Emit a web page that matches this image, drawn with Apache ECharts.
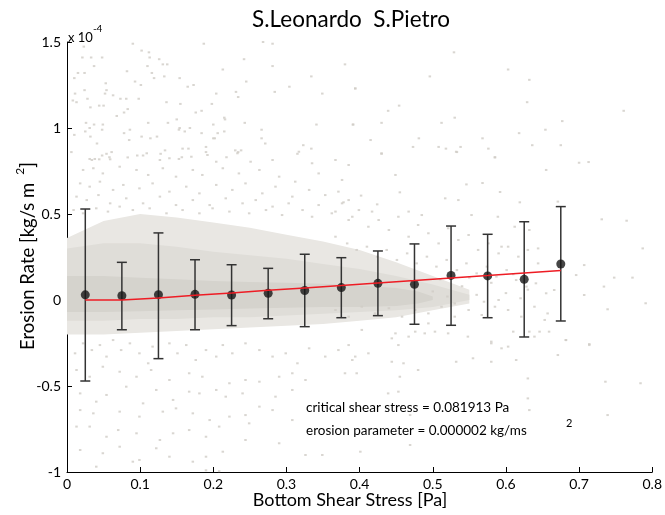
<!DOCTYPE html>
<html><head><meta charset="utf-8">
<script src="https://cdn.jsdelivr.net/npm/echarts@6/dist/echarts.min.js"></script>
<style>html,body{margin:0;padding:0;background:#fff}#c{width:665px;height:515px}</style>
</head><body><div id="c"></div>
<script>
// ---- data (erosion rate in units of 1e-4 kg/s m^2) ----
const binX   = [0.025,0.075,0.125,0.175,0.225,0.275,0.325,0.375,0.425,0.475,0.525,0.575,0.625,0.675];
const binMean= [0.030,0.025,0.031,0.033,0.029,0.039,0.055,0.072,0.097,0.091,0.143,0.140,0.120,0.209];
const binHigh= [0.529,0.219,0.390,0.234,0.205,0.184,0.266,0.246,0.285,0.326,0.430,0.382,0.455,0.543];
const binLow = [-0.471,-0.173,-0.341,-0.173,-0.149,-0.109,-0.155,-0.103,-0.091,-0.141,-0.147,-0.103,-0.215,-0.122];
const fitY   = [0,0,0.012,0.027,0.041,0.056,0.070,0.084,0.099,0.113,0.128,0.142,0.157,0.171];

// density envelopes of the raw scatter cloud
const bandX     = [0,0.05,0.1,0.15,0.2,0.25,0.3,0.35,0.4,0.45,0.5,0.55];
const outerTop  = [0.36,0.46,0.50,0.48,0.45,0.42,0.38,0.34,0.29,0.22,0.14,0.06];
const outerBot  = [-0.20,-0.20,-0.19,-0.18,-0.17,-0.16,-0.15,-0.14,-0.12,-0.10,-0.06,-0.02];
const innerTop  = [0.30,0.33,0.33,0.31,0.28,0.26,0.24,0.21,0.18,0.14,0.09,0.03];
const innerBot  = [-0.12,-0.12,-0.11,-0.11,-0.10,-0.10,-0.09,-0.08,-0.07,-0.06,-0.04,0.00];
const coreX     = [0,0.05,0.1,0.15,0.2,0.25,0.3,0.35,0.4,0.45,0.48,0.5];
const coreTop   = [0.14,0.14,0.13,0.12,0.11,0.105,0.10,0.095,0.085,0.07,0.05,0.02];
const coreBot   = [-0.07,-0.07,-0.065,-0.06,-0.055,-0.05,-0.045,-0.04,-0.04,-0.035,-0.02,0.00];

// individual sparse points of the raw cloud
const sparsePts = [
[0.023,1.473],[0.021,1.41],[0.033,1.41],[0.048,1.41],[0.037,1.36],[0.09,1.49],[0.102,1.45],[0.112,1.44],[0.113,1.41],[0.126,1.40],
[0.131,1.37],[0.137,1.37],[0.110,1.36],[0.082,1.33],[0.116,1.32],[0.119,1.29],[0.133,1.30],[0.154,1.29],[0.187,1.49],[0.213,1.34],
[0.242,1.40],[0.268,1.50],[0.281,1.49],[0.281,1.36],[0.245,1.27],[0.204,1.20],[0.231,1.21],[0.234,1.18],[0.284,1.21],[0.304,1.24],
[0.334,1.30],[0.349,1.20],[0.380,1.37],[0.394,1.23],[0.015,1.32],[0.024,1.32],[0.010,1.29],[0.053,1.26],[0.093,1.27],[0.101,1.25],
[0.024,1.22],[0.011,1.20],[0.052,1.20],[0.054,1.22],[0.063,1.19],[0.028,1.17],[0.008,1.16],[0.013,1.15],[0.073,1.17],[0.081,1.17],
[0.098,1.17],[0.165,1.24],[0.173,1.25],[0.136,1.15],[0.155,1.14],[0.198,1.14],[0.032,1.12],[0.044,1.13],[0.050,1.13],[0.083,1.11],
[0.078,1.09],[0.176,1.09],[0.184,1.10],[0.068,1.07],[0.215,1.06],[0.216,1.05],[0.150,1.05],[0.026,1.03],[0.037,1.02],[0.049,1.02],
[0.111,1.03],[0.138,1.03],[0.200,1.02],[0.243,1.03],[0.341,1.02],[0.391,1.02],[0.031,1.00],[0.025,0.98],[0.048,0.99],[0.086,0.99],
[0.154,1.00],[0.153,0.99],[0.168,1.00],[0.161,0.98],[0.184,0.97],[0.266,0.99],[0.215,0.98],[0.010,0.96],[0.032,0.95],[0.078,0.97],
[0.102,0.95],[0.114,0.94],[0.123,0.95],[0.200,0.94],[0.202,0.94],[0.206,0.97],[0.266,0.94],[0.085,0.93],[0.041,0.91],[0.271,0.91],
[0.323,0.90],[0.334,0.88],[0.006,0.86],[0.158,0.88],[0.166,0.88],[0.190,0.89],[0.190,0.86],[0.134,0.87],[0.230,0.87],[0.234,0.86],
[0.238,0.87],[0.054,0.85],[0.061,0.86],[0.048,0.84],[0.058,0.83],[0.096,0.84],[0.104,0.84],[0.128,0.85],[0.315,0.85],[0.031,0.82],
[0.038,0.82],[0.153,0.82],[0.157,0.83],[0.218,0.83],
[0.529,1.44],[0.603,1.34],[0.632,1.28],[0.496,1.30],[0.394,1.23],[0.454,1.13],[0.439,1.10],[0.629,1.15],[0.761,1.10],[0.391,1.02],
[0.430,1.03],[0.512,1.03],[0.530,1.06],[0.677,1.04],[0.654,0.99],[0.618,0.97],[0.415,0.93],[0.481,0.94],[0.568,0.94],[0.473,0.89],
[0.508,0.89],[0.518,0.88],[0.538,0.89],[0.533,0.86],[0.576,0.88],[0.636,0.90],[0.675,0.90],[0.430,0.85],[0.585,0.83],
[0.034,0.814],[0.044,0.818],[0.059,0.818],[0.083,0.829],[0.109,0.853],[0.127,0.814],[0.140,0.824],[0.170,0.833],[0.192,0.843],[0.204,0.804],
[0.233,0.853],[0.251,0.804],[0.281,0.814],[0.317,0.862],[0.335,0.795],[0.367,0.814],[0.385,0.785],
[0.022,0.756],[0.036,0.766],[0.049,0.736],[0.072,0.775],[0.095,0.756],[0.111,0.727],[0.131,0.766],[0.149,0.717],[0.172,0.756],[0.185,0.727],
[0.213,0.766],[0.235,0.736],[0.263,0.756],[0.290,0.717],[0.312,0.688],[0.344,0.736],[0.376,0.698],
[0.018,0.678],[0.031,0.659],[0.045,0.688],[0.063,0.640],[0.077,0.669],[0.099,0.649],[0.117,0.678],[0.140,0.630],[0.163,0.659],[0.181,0.620],
[0.204,0.669],[0.226,0.640],[0.244,0.678],[0.267,0.620],[0.285,0.659],[0.308,0.601],[0.331,0.640],[0.353,0.610],[0.385,0.581],
[0.013,0.601],[0.027,0.581],[0.043,0.610],[0.059,0.562],[0.081,0.591],[0.104,0.562],[0.127,0.601],[0.149,0.552],[0.172,0.581],[0.195,0.552],
[0.217,0.591],[0.240,0.562],[0.258,0.581],[0.281,0.543],[0.303,0.562],[0.322,0.523],[0.344,0.552],[0.367,0.514],
[0.009,0.523],[0.022,0.504],[0.040,0.533],[0.056,0.514],[0.072,0.543],[0.090,0.523],[0.113,0.533],[0.136,0.504],[0.158,0.523],[0.181,0.504],
[0.199,0.533],[0.222,0.514],[0.249,0.504],[0.272,0.523],[0.294,0.494],[0.335,0.484],[0.390,0.484],
[0.430,0.853],[0.532,0.862],[0.585,0.829],[0.700,0.798],[0.713,0.802],[0.655,0.756],[0.449,0.727],[0.546,0.672],[0.568,0.680],[0.592,0.628],
[0.619,0.568],[0.671,0.572],[0.371,0.630],[0.402,0.607],[0.378,0.568],[0.424,0.556],[0.455,0.626],[0.517,0.591],[0.535,0.581],[0.417,0.514],
[0.467,0.514],[0.485,0.494],[0.553,0.494],[0.589,0.484],[0.612,0.426],[0.632,0.407],[0.731,0.469],[0.765,0.461],[0.787,0.300],[0.594,0.310],
[0.644,0.300],[0.707,0.203],[0.696,0.145],[0.748,0.130],[0.773,0.130],[0.734,0.078],[0.791,-0.019],[0.739,-0.054],[0.714,-0.256],[0.682,-0.233],
[0.639,-0.213],[0.610,-0.184],[0.580,-0.242],[0.548,-0.213],[0.494,-0.136],[0.449,-0.194],[0.403,-0.174],[0.385,-0.262],[0.653,-0.116],[0.707,0.029],
[0.362,0.504],[0.376,0.562],[0.385,0.465],[0.399,0.523],[0.412,0.426],[0.426,0.465],[0.440,0.407],[0.453,0.484],[0.467,0.368],[0.480,0.436],
[0.494,0.388],[0.508,0.329],[0.521,0.417],[0.535,0.349],[0.549,0.378],[0.562,0.291],[0.576,0.329],[0.590,0.271],[0.603,0.310],[0.617,0.252],
[0.630,0.291],[0.644,0.213],[0.367,0.368],[0.383,0.329],[0.396,0.291],[0.410,0.310],[0.424,0.252],[0.437,0.291],[0.451,0.233],[0.465,0.271],
[0.478,0.213],[0.492,0.252],[0.505,0.194],[0.519,0.233],[0.533,0.174],[0.546,0.213],[0.560,0.155],[0.574,0.194],[0.587,0.136],[0.601,0.174],
[0.614,0.116],[0.628,0.078],[0.641,0.097],[0.655,0.039],[0.666,0.058],[0.367,-0.058],[0.385,-0.097],[0.403,-0.039],[0.421,-0.078],[0.440,-0.048],
[0.458,-0.097],[0.476,-0.058],[0.494,-0.078],[0.512,-0.039],[0.530,-0.097],[0.549,-0.058],[0.567,-0.087],[0.585,-0.039],[0.603,-0.058],[0.621,-0.097],
[0.639,-0.039],[0.657,-0.078],[0.50,0.05],[0.52,0.02],[0.54,0.08],[0.56,0.03],[0.58,0.10],[0.60,0.04],[0.62,0.01],[0.51,0.12],[0.55,0.13],
[0.59,0.00],[0.53,-0.02],[0.57,-0.01],[0.61,0.15],[0.63,0.06],
[0.011,-0.310],[0.022,-0.252],[0.034,-0.291],[0.045,-0.262],[0.054,-0.329],[0.063,-0.233],[0.074,-0.291],[0.086,-0.252],[0.099,-0.310],[0.111,-0.368],
[0.117,-0.271],[0.140,-0.252],[0.151,-0.310],[0.163,-0.262],[0.176,-0.349],[0.190,-0.291],[0.204,-0.329],[0.213,-0.262],[0.226,-0.310],[0.244,-0.252],
[0.263,-0.291],[0.281,-0.329],[0.299,-0.310],[0.315,-0.368],[0.331,-0.281],[0.353,-0.329],[0.371,-0.291],[0.390,-0.349],
[0.013,-0.407],[0.031,-0.446],[0.049,-0.388],[0.072,-0.417],[0.095,-0.446],[0.115,-0.407],[0.140,-0.465],[0.167,-0.426],[0.185,-0.446],[0.204,-0.523],
[0.222,-0.484],[0.244,-0.465],[0.263,-0.475],[0.290,-0.446],[0.308,-0.426],[0.326,-0.465],[0.380,-0.426],
[0.018,-0.543],[0.040,-0.591],[0.054,-0.552],[0.081,-0.504],[0.104,-0.601],[0.122,-0.523],[0.145,-0.581],[0.167,-0.533],[0.181,-0.543],[0.217,-0.562],
[0.240,-0.543],[0.263,-0.620],[0.285,-0.562],[0.308,-0.523],
[0.018,-0.640],[0.036,-0.659],[0.072,-0.649],[0.099,-0.678],[0.131,-0.649],[0.149,-0.630],[0.172,-0.659],[0.195,-0.698],[0.222,-0.678],[0.244,-0.669],
[0.281,-0.640],[0.308,-0.698],
[0.013,-0.736],[0.031,-0.736],[0.054,-0.795],[0.070,-0.756],[0.095,-0.775],[0.127,-0.814],[0.145,-0.775],[0.167,-0.756],[0.190,-0.795],[0.208,-0.736],
[0.249,-0.717],[0.290,-0.833],
[0.018,-0.872],[0.049,-0.891],[0.072,-0.853],[0.099,-0.930],[0.122,-0.862],[0.140,-0.911],[0.172,-0.940],[0.190,-0.911],[0.213,-0.882],[0.244,-0.814],
[0.326,-0.901],[0.349,-0.901],[0.040,-0.969],[0.090,-0.940],[0.190,-0.990],[0.208,-0.995],
[0.444,-0.223],[0.453,-0.262],[0.467,-0.213],[0.476,-0.184],[0.489,-0.194],[0.503,-0.184],[0.521,-0.194],[0.394,-0.329],[0.412,-0.310],[0.444,-0.359],
[0.460,-0.368],[0.480,-0.407],[0.396,-0.426],[0.455,-0.446],[0.439,-0.543],[0.453,-0.533],[0.532,-0.359],[0.555,-0.339],[0.580,-0.359],[0.594,-0.281],
[0.603,-0.271],[0.614,-0.349],[0.630,-0.456],[0.630,-0.572],[0.580,-0.252],[0.632,-0.184],[0.646,-0.184],[0.659,-0.184],[0.682,-0.233],[0.714,-0.262],
[0.671,-0.320],[0.736,-0.475],[0.784,-0.484],[0.739,-0.669],[0.632,-0.640],[0.469,-0.669],[0.469,-0.843],[0.401,-0.882]
];

const xTicks = {min:0, max:0.8, interval:0.1};
const yTicks = {min:-1, max:1.5, interval:0.5};

const titleText = 'S.Leonardo  S.Pietro';
const xName = 'Bottom Shear Stress [Pa]';
const note1 = 'critical shear stress = 0.081913 Pa';
const note2 = 'erosion parameter = 0.000002 kg/ms';

// ---- chart ----
const FONT = 'Lato, "Noto Sans", sans-serif';
const chart = echarts.init(document.getElementById('c'), null, {renderer:'canvas'});

function band(xs, top, bot, color, z) {
  return {
    type:'custom', silent:true, z:z, clip:true,
    data:[[xs[0], top[0]]],
    renderItem:function(params, api){
      const pts = [];
      for (let i=0;i<xs.length;i++) pts.push(api.coord([xs[i], top[i]]));
      for (let i=xs.length-1;i>=0;i--) pts.push(api.coord([xs[i], bot[i]]));
      return {type:'polygon', shape:{points:pts}, style:{fill:color}};
    }
  };
}

const option = {
  animation:false,
  backgroundColor:'#fff',
  grid:{left:67, right:10, top:42, bottom:43, containLabel:false},
  xAxis:{
    type:'value', min:xTicks.min, max:xTicks.max, interval:xTicks.interval,
    splitLine:{show:false},
    axisLine:{show:true, onZero:false, lineStyle:{color:'#000', width:1}},
    axisTick:{show:true, inside:true, length:5, lineStyle:{color:'#000'}},
    axisLabel:{color:'#000', fontFamily:FONT, fontSize:14, margin:5}
  },
  yAxis:{
    type:'value', min:yTicks.min, max:yTicks.max, interval:yTicks.interval,
    splitLine:{show:false},
    axisLine:{show:true, onZero:false, lineStyle:{color:'#000', width:1}},
    axisTick:{show:true, inside:true, length:5, lineStyle:{color:'#000'}},
    axisLabel:{color:'#000', fontFamily:FONT, fontSize:14, margin:6}
  },
  series:[
    band(bandX, outerTop, outerBot, '#e9e7e3', 1),
    band(bandX, innerTop, innerBot, '#dfddd8', 2),
    band(coreX, coreTop, coreBot, '#d5d3cd', 3),
    {
      type:'scatter', z:4, silent:true, symbol:'rect', symbolSize:[2.5,2],
      itemStyle:{color:'#cfccc5'}, data:sparsePts
    },
    {
      type:'custom', z:5, silent:true,
      data: binX.map((x,i)=>[x, binLow[i], binHigh[i]]),
      renderItem:function(params, api){
        const x = api.value(0);
        const lo = api.coord([x, api.value(1)]);
        const hi = api.coord([x, api.value(2)]);
        const w = 5;
        const st = {stroke:'#333', lineWidth:1.5};
        return {type:'group', children:[
          {type:'line', shape:{x1:lo[0], y1:lo[1], x2:hi[0], y2:hi[1]}, style:st},
          {type:'line', shape:{x1:hi[0]-w, y1:hi[1], x2:hi[0]+w, y2:hi[1]}, style:st},
          {type:'line', shape:{x1:lo[0]-w, y1:lo[1], x2:lo[0]+w, y2:lo[1]}, style:st}
        ]};
      }
    },
    {
      type:'scatter', z:6, silent:true, symbol:'circle', symbolSize:9,
      itemStyle:{color:'#161616'}, data: binX.map((x,i)=>[x, binMean[i]])
    },
    {
      type:'line', z:7, silent:true, symbol:'none',
      lineStyle:{color:'#ee1c24', width:1.5},
      data: binX.map((x,i)=>[x, fitY[i]])
    }
  ],
  graphic:[
    {type:'text', z:10, style:{text:titleText, x:351, y:20, align:'center', verticalAlign:'middle', font:'22.5px '+FONT, fill:'#000'}},
    {type:'text', z:10, style:{text:xName, x:350, y:500, align:'center', verticalAlign:'middle', font:'18px '+FONT, fill:'#000'}},
    {type:'text', z:10, x:26, y:256, rotation:Math.PI/2, style:{
      text:'{a|Erosion Rate [kg/s m}{g| }{s|2}{a|]}', align:'center', verticalAlign:'middle',
      rich:{a:{fontFamily:FONT, fontSize:18.5, lineHeight:24, verticalAlign:'bottom', fill:'#000'},
            g:{fontFamily:FONT, fontSize:18.5, width:8},
            s:{fontFamily:FONT, fontSize:12, verticalAlign:'top', fill:'#000'}}
    }},
    {type:'text', z:10, x:68, y:34, style:{
      text:'{a|x 10}{s|-4}', align:'left', verticalAlign:'middle',
      rich:{a:{fontFamily:FONT, fontSize:13, lineHeight:20, verticalAlign:'bottom', fill:'#000'},
            s:{fontFamily:FONT, fontSize:10, verticalAlign:'top', fill:'#000'}}
    }},
    {type:'text', z:10, style:{text:note1, x:306, y:408, align:'left', verticalAlign:'middle', font:'13.5px '+FONT, fill:'#000'}},
    {type:'text', z:10, style:{text:note2, x:306, y:431, align:'left', verticalAlign:'middle', font:'13.5px '+FONT, fill:'#000'}},
    {type:'text', z:10, style:{text:'2', x:566, y:423, align:'left', verticalAlign:'middle', font:'11px '+FONT, fill:'#000'}}
  ]
};
chart.setOption(option);
</script>
</body></html>
